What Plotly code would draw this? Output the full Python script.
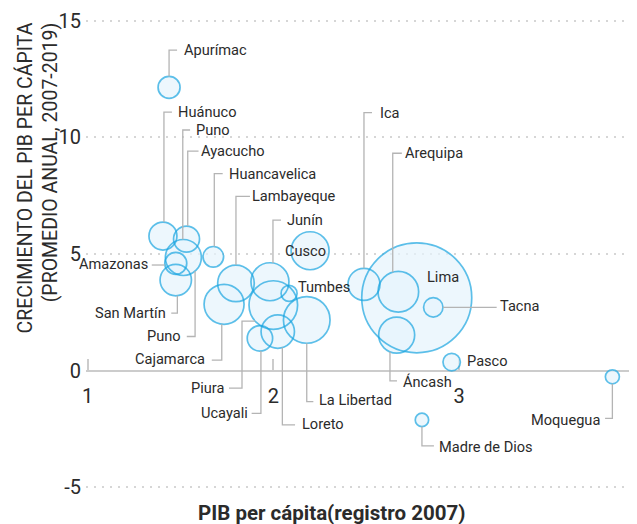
import plotly.graph_objects as go

# ---------------- data ----------------
regiones = ["Apurímac", "Huánuco", "Ayacucho", "Puno", "Amazonas", "San Martín",
            "Huancavelica", "Lambayeque", "Cajamarca", "Junín", "Piura", "Tumbes",
            "La Libertad", "Loreto", "Ucayali", "Cusco", "Ica", "Lima", "Arequipa",
            "Tacna", "Áncash", "Pasco", "Madre de Dios", "Moquegua"]
pib_pc_log = [1.439, 1.406, 1.533, 1.516, 1.475, 1.475,
              1.677, 1.799, 1.735, 1.982, 2.000, 2.085,
              2.180, 2.024, 1.928, 2.198, 2.488, 2.772, 2.673,
              2.861, 2.664, 2.960, 2.800, 3.825]
crecimiento = [12.15, 5.77, 5.64, 4.85, 4.60, 3.88,
               4.88, 3.74, 2.84, 3.81, 2.81, 3.31,
               2.17, 1.67, 1.38, 5.14, 3.70, 3.12, 3.38,
               2.71, 1.52, 0.36, -2.12, -0.27]
poblacion = [404, 655, 564, 1082, 404, 823,
             354, 1119, 1336, 1206, 1972, 214,
             1813, 931, 539, 1206, 855, 10104, 1376,
             314, 1082, 253, 150, 164]
y_ticks = [-5, 0, 5, 10, 15]
y_tick_labels = ["-5", "0", "5", "10", "15"]
x_ticks = [1, 2, 3]

# ---------------- layout constants ----------------
BODY = 8                      # default page margin around the figure
W, H = 637 - BODY, 524 - BODY
ML, MR, MT, MB = 78, 0, 7, 29
PW, PH = W - ML - MR, H - MT - MB
X_RANGE = [0.9919, 3.9575]
Y_RANGE = [-5.343, 15.257]
PXX = PW / (X_RANGE[1] - X_RANGE[0])
PXY = PH / (Y_RANGE[1] - Y_RANGE[0])

FONT = "Roboto, 'Liberation Sans', Arial, sans-serif"
TXT = "#2b2b2b"
STROKE = "#1ba6e1"
FILL = "#e6f4fc"
LEADER = "#b4b4b4"

# label placement: (region, text, text offset px, anchor, leader path offsets px)
labels = [
    ("Apurímac", "Apurímac", (14, -37.3), "left", [(0, -11), (0, -37.3), (8, -37.3)]),
    ("Huánuco", "Huánuco", (14, -124), "left", [(1, -14), (1, -124), (9, -124)]),
    ("Puno", "Puno", (11.2, -127.5), "left", [(-0.6, -18), (-0.6, -127.5), (6.7, -127.5)]),
    ("Ayacucho", "Ayacucho", (13.5, -88), "left", [(1.2, -13), (1.2, -88), (12, -88)]),
    ("Huancavelica", "Huancavelica", (14.7, -83.2), "left", [(1, -10.3), (1, -83.2), (9.4, -83.2)]),
    ("Lambayeque", "Lambayeque", (15, -87), "left", [(0, -18.3), (0, -87), (14, -87)]),
    ("Junín", "Junín", (16, -61.7), "left", [(3, -18.8), (3, -61.7), (11, -61.7)]),
    ("Ica", "Ica", (15, -171.6), "left", [(0, -16), (0, -171.6), (8, -171.6)]),
    ("Arequipa", "Arequipa", (5.2, -138.5), "left", [(-5.6, -19.5), (-5.6, -138.5), (3.5, -138.5)]),
    ("San Martín", "San Martín", (-9, 33), "right", [(1.6, 15.6), (1.6, 33), (-4.5, 33)]),
    ("Puno", "Puno", (-1.6, 78.5), "right", [(11.7, 13.7), (11.7, 79), (3.4, 79)]),
    ("Cajamarca", "Cajamarca", (-18.3, 54.5), "right", [(-2.3, 19.9), (-2.3, 55.7), (-12.3, 55.7)]),
    ("Piura", "Piura", (-48.3, 82.7), "right", [(-18.3, 16), (-31.3, 16), (-31.3, 83), (-44.3, 83)]),
    ("Ucayali", "Ucayali", (-11, 75), "right", [(1, 12.7), (1, 75), (-8.3, 75)]),
    ("Loreto", "Loreto", (23, 92), "left", [(4.6, 16), (4.6, 93.3), (17.3, 93.3)]),
    ("La Libertad", "La Libertad", (11.6, 80.5), "left", [(0, 23.3), (0, 81.7), (6.6, 81.7)]),
    ("Áncash", "Áncash", (5, 46.7), "left", [(-6.7, 16.7), (-6.7, 45.7), (0.3, 45.7)]),
    ("Madre de Dios", "Madre de Dios", (16.3, 26.7), "left", [(0, 6.7), (0, 26), (12, 26)]),
    ("Moquegua", "Moquegua", (-11.6, 43), "right", [(0, 7), (0, 41.6), (-7.3, 41.6)]),
    ("Pasco", "Pasco", (14.3, -1.3), "left", []),
    ("Tacna", "Tacna", (66, -1.6), "left", [(9.7, 0), (63.4, 0)]),
    ("Amazonas", "Amazonas", (-26.4, 0.7), "right", [(-11, 1.7), (-24, 1.7)]),
    ("Tumbes", "Tumbes", (7.7, -6.6), "left", []),
    ("Cusco", "Cusco", (-5, 0), "center", []),
    ("Lima", "Lima", (26, -20.7), "center", []),
]


def to_data(region, dx, dy):
    i = regiones.index(region)
    return pib_pc_log[i] + dx / PXX, crecimiento[i] - dy / PXY


def paper_x(px):
    return (px - BODY - ML) / PW


def paper_y(py):
    return (MT + PH - (py - BODY)) / PH


SIZEREF = 3.34 / 2

fig = go.Figure()
# fill layer
fig.add_trace(go.Scatter(
    x=pib_pc_log, y=crecimiento, mode="markers", text=regiones, hoverinfo="text",
    marker=dict(size=poblacion, sizemode="area", sizeref=SIZEREF, color=FILL,
                line=dict(width=0)),
    showlegend=False))
# outline layer
fig.add_trace(go.Scatter(
    x=pib_pc_log, y=crecimiento, mode="markers", text=regiones, hoverinfo="skip",
    marker=dict(size=poblacion, sizemode="area", sizeref=SIZEREF,
                color="rgba(0,0,0,0)", line=dict(width=1.7, color=STROKE)),
    showlegend=False))

shapes = []
annotations = []
for region, text, (tdx, tdy), anchor, path in labels:
    if path:
        pts = [to_data(region, px, py) for px, py in path]
        d = "M " + " L ".join(f"{x:.5f},{y:.5f}" for x, y in pts)
        shapes.append(dict(type="path", xref="x", yref="y", path=d,
                           line=dict(color=LEADER, width=1.3), layer="above"))
    tx, ty = to_data(region, tdx, tdy)
    annotations.append(dict(x=tx, y=ty, xref="x", yref="y", text=text, showarrow=False,
                            xanchor=anchor, yanchor="middle", borderpad=0,
                            font=dict(family=FONT, size=14.6, color=TXT)))

# axis titles
annotations.append(dict(
    text="CRECIMIENTO DEL PIB PER CÁPITA<br>(PROMEDIO ANUAL, 2007-2019)",
    xref="paper", yref="paper", x=paper_x(36.5), y=paper_y(178),
    textangle=-90, showarrow=False, xanchor="center", yanchor="middle", align="right",
    font=dict(family=FONT, size=19.5, color=TXT)))
annotations.append(dict(
    text="<b>PIB per cápita(registro 2007)</b>",
    xref="paper", yref="paper", x=paper_x(331), y=paper_y(513),
    showarrow=False, xanchor="center", yanchor="middle",
    font=dict(family=FONT, size=20.5, color=TXT)))

fig.update_layout(
    width=W, height=H,
    margin=dict(l=ML, r=MR, t=MT, b=MB, pad=0),
    paper_bgcolor="white", plot_bgcolor="white",
    font=dict(family=FONT, color=TXT),
    shapes=shapes, annotations=annotations,
    xaxis=dict(range=X_RANGE, tickvals=x_ticks, anchor="free",
               position=(0 - Y_RANGE[0]) / (Y_RANGE[1] - Y_RANGE[0]),
               showgrid=False, zeroline=False, showline=False,
               ticks="inside", ticklen=12, tickwidth=2, tickcolor="#cccccc",
               ticklabelstandoff=11,
               tickfont=dict(family=FONT, size=20, color=TXT), layer="below traces"),
    yaxis=dict(range=Y_RANGE, tickvals=y_ticks, ticktext=y_tick_labels,
               showgrid=True, gridcolor="#d6d6d6",
               gridwidth=2, griddash="2px,6px", zeroline=True, zerolinecolor="#cccccc",
               zerolinewidth=2, showline=False, ticks="", ticklabelstandoff=4,
               tickfont=dict(family=FONT, size=20, color=TXT), layer="below traces"),
)

fig.write_html("out.html")
